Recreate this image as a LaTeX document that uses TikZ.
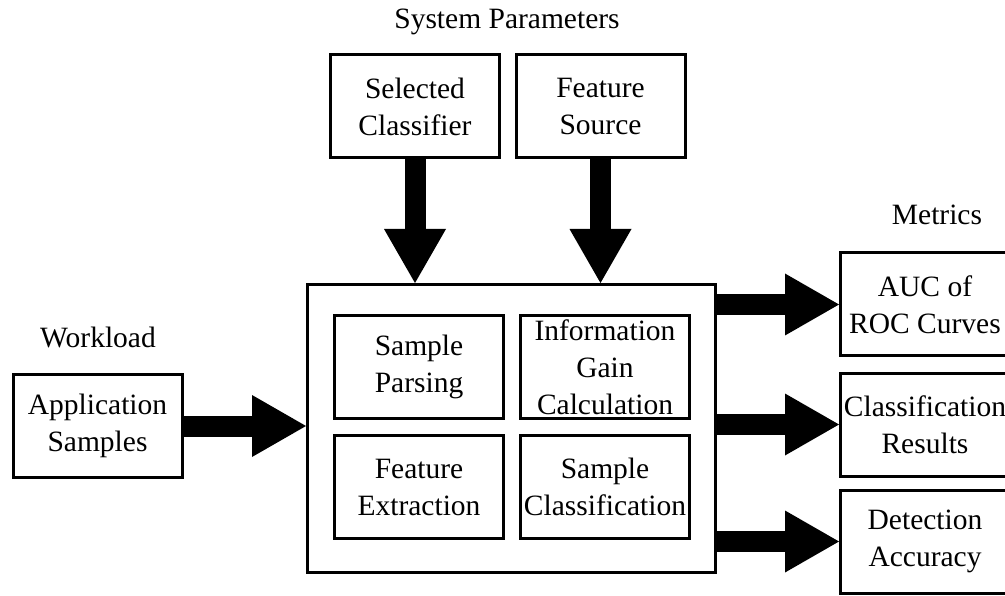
\documentclass[tikz,border=0pt]{standalone}
\usepackage{fontspec}
\setmainfont{Liberation Serif}
\usetikzlibrary{
  arrows.meta,
  positioning
}

\begin{document}
\begin{tikzpicture}[
        x=1pt, y=-1pt,
        every node/.style={font=\fontsize{29.5}{37}\selectfont},
        box/.style={draw, line width=3pt, align=center, inner sep=0pt,
            minimum width=169pt, minimum height=103pt},
        bigarrow/.style={line width=21pt,
            -{Triangle[length=54pt, width=62pt, line width=0pt]}}
    ]
        \useasboundingbox (0,0) rectangle (1005,596);
        % Parametros do sistema
        \node (sysparam) at (507,22) {System Parameters};
        \node[box] (clf) at (415,106.5) {Selected\\Classifier};
        \node[box] (src) at (600.5,106.5) {Feature\\Source};
        % Entrada
        \node (workload) at (98,337) {Workload};
        \node[box] (app) at (97.5,426) {Application\\Samples};
        % Bloco principal
        \node[box, minimum width=408pt, minimum height=288pt] (main) at (511.5,428.5) {};
        \foreach \name/\x/\y/\txt in {parse/419/367/{Sample\\Parsing},
                gain/605/367/{Information\\Gain\\Calculation},
                extract/419/487/{Feature\\Extraction},
                classify/605/487/{Sample\\Classification}} {
            \node[box] (\name) at (\x,\y) {\txt};
        }
        % Saidas
        \node (metrics) at (937,215) {Metrics};
        \foreach \name/\y/\txt in {auc/304.5/{AUC of\\ROC Curves},
                results/424.5/{Classification\\Results},
                acc/541.5/{Detection\\Accuracy}} {
            \node[box] (\name) at (925,\y) {\txt};
        }
        % Setas
        \draw[bigarrow] (app.east) -- (app.east -| main.west);
        \draw[bigarrow] (clf.south) -- (clf.south |- main.north);
        \draw[bigarrow] (src.south) -- (src.south |- main.north);
        \foreach \name in {auc, results, acc} {
            \draw[bigarrow] (\name.west -| main.east) -- (\name.west);
        }
    \end{tikzpicture}
\end{document}
